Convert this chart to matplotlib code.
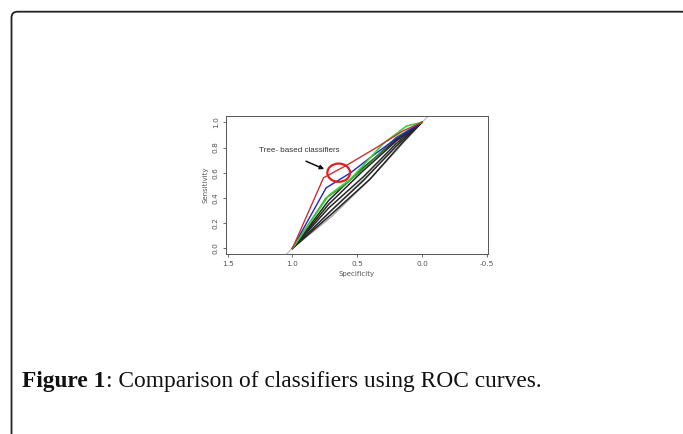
import matplotlib
matplotlib.use('Agg')

import matplotlib.pyplot as plt
from matplotlib.patches import FancyBboxPatch, Ellipse


# ROC curves as (specificity, sensitivity) points
red_spec = [1.0, 0.76, 0.58, 0.35, 0.15, 0.0]
red_sens = [0.0, 0.56, 0.66, 0.80, 0.93, 1.0]

blue_spec = [1.0, 0.74, 0.55, 0.40, 0.20, 0.0]
blue_sens = [0.0, 0.48, 0.60, 0.72, 0.87, 1.0]

green_spec = [1.0, 0.72, 0.55, 0.30, 0.12, 0.0]
green_sens = [0.0, 0.42, 0.55, 0.83, 0.97, 1.0]

green2_spec = [1.0, 0.74, 0.60, 0.40, 0.20, 0.0]
green2_sens = [0.0, 0.40, 0.50, 0.68, 0.88, 1.0]

black_curves = [
    ([1.0, 0.72, 0.50, 0.20, 0.0], [0.0, 0.38, 0.60, 0.86, 1.0]),
    ([1.0, 0.72, 0.47, 0.20, 0.0], [0.0, 0.35, 0.60, 0.85, 1.0]),
    ([1.0, 0.72, 0.45, 0.20, 0.0], [0.0, 0.32, 0.57, 0.83, 1.0]),
    ([1.0, 0.70, 0.45, 0.20, 0.0], [0.0, 0.30, 0.54, 0.81, 1.0]),
    ([1.0, 0.70, 0.40, 0.15, 0.0], [0.0, 0.27, 0.55, 0.84, 1.0]),
]
grey_spec = [1.0, 0.70, 0.40, 0.0]
grey_sens = [0.0, 0.25, 0.55, 1.0]

x_ticks = [1.5, 1.0, 0.5, 0.0, -0.5]
x_ticklabels = ["1.5", "1.0", "0.5", "0.0", "-0.5"]
y_ticks = [0.0, 0.2, 0.4, 0.6, 0.8, 1.0]
y_ticklabels = ["0.0", "0.2", "0.4", "0.6", "0.8", "1.0"]

caption_bold = "Figure 1"
caption_rest = ": Comparison of classifiers using ROC curves."
note_text = "Tree- based classifiers"


fig = plt.figure(figsize=(6.83, 4.34), dpi=100)

# page-like frame and caption, drawn in pixel units
bg = fig.add_axes([0, 0, 1, 1])
bg.set_xlim(0, 683)
bg.set_ylim(434, 0)
bg.axis('off')
frame = FancyBboxPatch((11.5, 11.7), 676, 450,
                       boxstyle="round,pad=0,rounding_size=6",
                       fill=False, lw=1.3, ec='#222222')
bg.add_patch(frame)
t1 = bg.text(22.5, 387, caption_bold, fontsize=16.8, fontweight='bold',
             family='Liberation Serif', color='#111111', va='baseline')
bg.annotate(caption_rest, xy=(1, 0), xycoords=t1, va='bottom',
            fontsize=16.8, family='Liberation Serif', color='#111111')

ax = fig.add_axes([225.5 / 683, 1 - 254 / 434, (488 - 225.5) / 683, (254 - 116) / 434])
ax.set_xlim(1.517, -0.51)
ax.set_ylim(-0.045, 1.05)

ax.axline((1.0, 0.0), (0.0, 1.0), color='#c4c4c4', lw=1.0, zorder=1)
ax.plot(grey_spec, grey_sens, color='#a8a8a8', lw=1.0)
for spec, sens in black_curves:
    ax.plot(spec, sens, color='#262626', lw=1.1)
ax.plot(green2_spec, green2_sens, color='#2e8b2e', lw=1.1)
ax.plot(blue_spec, blue_sens, color='#2323c8', lw=1.0)
ax.plot(green_spec, green_sens, color='#3ccf3c', lw=1.2)
ax.plot(red_spec, red_sens, color='#c83232', lw=1.0)

ax.add_patch(Ellipse((0.643, 0.60), 0.175, 0.145, fill=False, ec='#e02020', lw=1.6, zorder=5))
ax.annotate("", xy=(0.735, 0.62), xytext=(0.915, 0.70),
            arrowprops=dict(arrowstyle='-|>', color='#111111', lw=1.1, mutation_scale=6))
ax.text(1.26, 0.775, note_text, fontsize=5.8, family='Liberation Sans',
        color='#333333', va='center', ha='left')

ax.set_xticks(x_ticks)
ax.set_xticklabels(x_ticklabels)
ax.set_yticks(y_ticks)
ax.set_yticklabels(y_ticklabels, rotation=90, va='center')
ax.tick_params(labelsize=5.3, length=2.2, width=0.6, colors='#555555', pad=2.5)
for s in ax.spines.values():
    s.set_linewidth(0.7)
    s.set_color('#555555')
ax.set_xlabel("Specificity", fontsize=5.0, color='#555555', labelpad=3)
ax.set_ylabel("Sensitivity", fontsize=5.0, color='#555555', labelpad=3)

plt.savefig("out.png", dpi=100)
plt.close()
